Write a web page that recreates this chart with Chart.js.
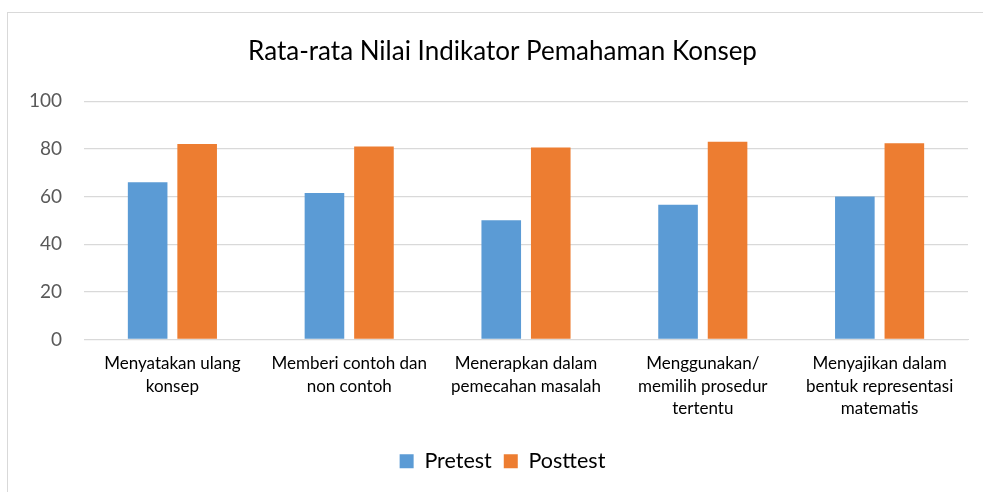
<!DOCTYPE html>
<html>
<head>
<meta charset="utf-8">
<script src="https://cdn.jsdelivr.net/npm/chart.js@4"></script>
<style>
    body { margin: 0; background: #fff; overflow: hidden; }
    #frame {
        position: absolute; left: 7px; top: 12px;
        width: 1000px; height: 500px;
        border-left: 1px solid #d9d9d9; border-top: 1px solid #d9d9d9;
    }
    #wrap { position: absolute; left: 0; top: 0; width: 1005px; height: 492px; }
</style>
</head>
<body>
<div id="frame"></div>
<div id="wrap"><canvas id="chart"></canvas></div>
<script>
    // data
    let kategori = [
        ["Menyatakan ulang", "konsep"],
        ["Memberi contoh dan", "non contoh"],
        ["Menerapkan dalam", "pemecahan masalah"],
        ["Menggunakan/", "memilih prosedur", "tertentu"],
        ["Menyajikan dalam", "bentuk representasi", "matematis"]
    ];
    let pretest = [66, 61.5, 50, 56.5, 60];
    let posttest = [82, 81, 80.6, 83, 82.4];
    let yTicks = [0, 20, 40, 60, 80, 100];

    const fontName = "Lato";

    const ctx = document.getElementById('chart').getContext('2d');
    const chart = new Chart(ctx, {
        type: 'bar',
        data: {
            labels: kategori,
            datasets: [
                {
                    label: 'Pretest',
                    data: pretest,
                    backgroundColor: '#5b9bd5',
                    categoryPercentage: 0.56,
                    barPercentage: 0.8
                },
                {
                    label: 'Posttest',
                    data: posttest,
                    backgroundColor: '#ed7d31',
                    categoryPercentage: 0.56,
                    barPercentage: 0.8
                }
            ]
        },
        options: {
            responsive: true,
            maintainAspectRatio: false,
            animation: false,
            layout: { padding: { left: 0, right: 0, top: 0, bottom: 10 } },
            plugins: {
                title: {
                    display: true,
                    text: 'Rata-rata Nilai Indikator Pemahaman Konsep',
                    color: '#000',
                    font: { family: fontName, size: 26, weight: 'normal' },
                    padding: { top: 36, bottom: 34 }
                },
                legend: {
                    position: 'bottom',
                    labels: {
                        color: '#000',
                        font: { family: fontName, size: 21.5 },
                        boxWidth: 14,
                        boxHeight: 14,
                        padding: 12
                    }
                },
                tooltip: { enabled: false }
            },
            scales: {
                x: {
                    grid: { display: false },
                    border: { color: '#d9d9d9', width: 1 },
                    ticks: {
                        color: '#000',
                        font: { family: fontName, size: 17, lineHeight: 1.32 },
                        maxRotation: 0,
                        autoSkip: false,
                        padding: 5
                    },
                    afterFit: function(scale) { scale.height = 99; }
                },
                y: {
                    min: 0,
                    max: 100,
                    afterBuildTicks: function(scale) {
                        scale.ticks = yTicks.map(v => ({ value: v }));
                    },
                    grid: { color: '#d9d9d9', lineWidth: 1.3, drawTicks: false },
                    border: { display: false },
                    ticks: {
                        color: '#595959',
                        font: { family: fontName, size: 19 },
                        padding: 22
                    },
                    afterFit: function(scale) { scale.width = 84; }
                },
                // empty space on the right so the plot ends at x=968
                spacer: {
                    type: 'linear',
                    position: 'right',
                    grid: { display: false },
                    border: { display: false },
                    ticks: { display: false },
                    afterFit: function(scale) { scale.width = 37; }
                }
            }
        }
    });
</script>
</body>
</html>
